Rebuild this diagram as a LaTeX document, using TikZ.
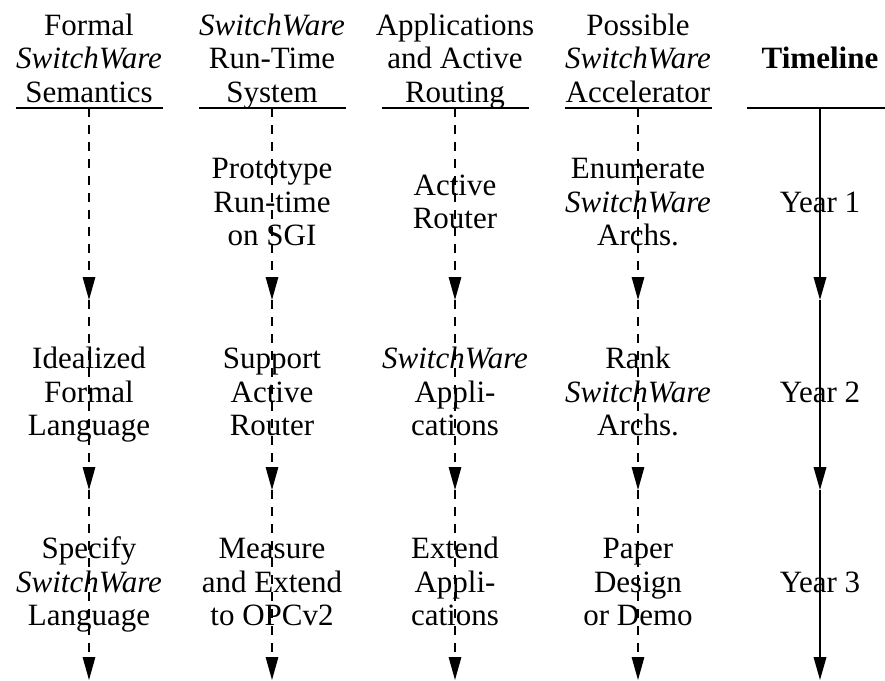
\documentclass[tikz,border=0pt]{standalone}
\usepackage{fontspec}
\setmainfont{Liberation Serif}
\usetikzlibrary{arrows.meta}
\newcommand{\cellstack}[1]{\begin{tabular}[t]{@{}c@{}}#1\end{tabular}}
\newcommand{\SW}{\textit{SwitchWare}}
\begin{document}
\begin{tikzpicture}[x=1pt,y=-1pt,
  txt/.style={anchor=base, inner sep=0pt, font=\fontsize{31}{33.5}\selectfont},
  rulel/.style={line width=1.5pt},
  dline/.style={line width=1.4pt, dash pattern=on 9pt off 8pt, -{Triangle[length=23pt,width=12.5pt]}},
  sline/.style={line width=2pt, -{Triangle[length=23pt,width=12.5pt]}}]
\useasboundingbox (0,0) rectangle (885,680);

% headers
\node[txt] (h1) at (89,35) {\cellstack{Formal\\ \SW\\ Semantics}};
\node[txt] (h2) at (272,35) {\cellstack{\SW\\ Run-Time\\ System}};
\node[txt] (h3) at (455,35) {\cellstack{Applications\\ and Active\\ Routing}};
\node[txt] (h4) at (638,35) {\cellstack{Possible\\ \SW\\ Accelerator}};
\node[txt] (h5) at (820,68.5) {\textbf{Timeline}};

% underlines
\draw[rulel] (15.5,108) -- (162.5,108);
\draw[rulel] (198.5,108) -- (345.5,108);
\draw[rulel] (381.5,108) -- (528.5,108);
\draw[rulel] (564.5,108) -- (711.5,108);
\draw[rulel] (747,108) -- (885,108);

% column coordinates and lines
\foreach \c/\x in {1/89,2/272,3/455,4/638,5/820}{
  \coordinate (t\c) at (\x,108);
  \coordinate (a\c) at (\x,300);
  \coordinate (b\c) at (\x,490);
  \coordinate (e\c) at (\x,680);
}
\foreach \c in {1,2,3,4}{
  \draw[dline] (t\c) -- (a\c);
  \draw[dline] (a\c) -- (b\c);
  \draw[dline] (b\c) -- (e\c);
}
\draw[sline] (t5) -- (a5);
\draw[sline] (a5) -- (b5);
\draw[sline] (b5) -- (e5);

% row 1
\node[txt] (r1c2) at (272,178.5) {\cellstack{Prototype\\ Run-time\\ on SGI}};
\node[txt] (r1c3) at (455,195.25) {\cellstack{Active\\ Router}};
\node[txt] (r1c4) at (638,178.5) {\cellstack{Enumerate\\ \SW\\ Archs.}};
\node[txt] (y1) at (820,212) {Year 1};

% row 2
\node[txt] (r2c1) at (89,368.5) {\cellstack{Idealized\\ Formal\\ Language}};
\node[txt] (r2c2) at (272,368.5) {\cellstack{Support\\ Active\\ Router}};
\node[txt] (r2c3) at (455,368.5) {\cellstack{\SW\\ Appli-\\ cations}};
\node[txt] (r2c4) at (638,368.5) {\cellstack{Rank\\ \SW\\ Archs.}};
\node[txt] (y2) at (820,402) {Year 2};

% row 3
\node[txt] (r3c1) at (89,558.5) {\cellstack{Specify\\ \SW\\ Language}};
\node[txt] (r3c2) at (272,558.5) {\cellstack{Measure\\ and Extend\\ to OPCv2}};
\node[txt] (r3c3) at (455,558.5) {\cellstack{Extend\\ Appli-\\ cations}};
\node[txt] (r3c4) at (638,558.5) {\cellstack{Paper\\ Design\\ or Demo}};
\node[txt] (y3) at (820,592) {Year 3};
\end{tikzpicture}
\end{document}
